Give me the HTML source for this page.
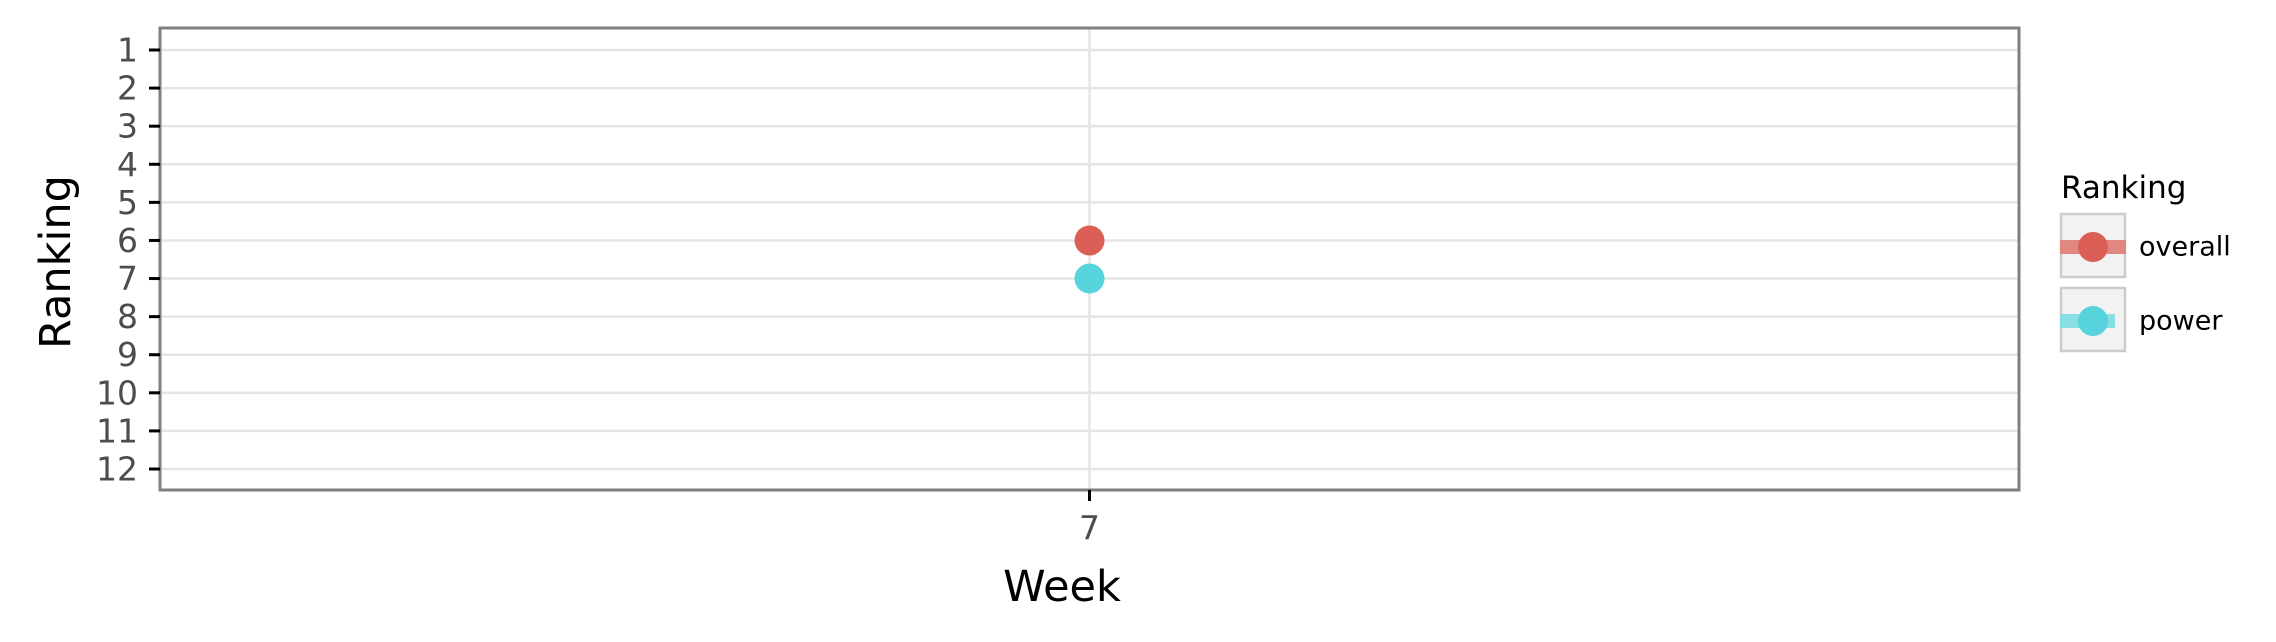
<!DOCTYPE html>
<html><head><meta charset="utf-8"><style>
html,body{margin:0;padding:0;background:#fff}
svg{display:block;font-family:"DejaVu Sans","Liberation Sans",sans-serif}
</style></head><body>
<svg id="chart" width="2276" height="642" viewBox="0 0 2276 642">
<g id="grid"></g>
<g id="marks"></g>
<rect x="160" y="28" width="1859" height="462" fill="none" stroke="#7f7f7f" stroke-width="3"/>
<g id="yaxis"></g>
<g id="xaxis"></g>
<text x="56" y="262" font-size="43" text-anchor="middle" dominant-baseline="central" transform="rotate(-90 56 262)">Ranking</text>
<text x="1062" y="587" font-size="43" text-anchor="middle" dominant-baseline="central">Week</text>
<g>
<text x="2061" y="198" font-size="31">Ranking</text>
<g>
<rect x="2061" y="214" width="64" height="63" fill="#f2f2f2" stroke="#cccccc" stroke-width="2.5"/>
<rect x="2060" y="240" width="66" height="14" fill="#e08880"/>
<circle cx="2093" cy="247" r="15" fill="#db5f57"/>
<text x="2139" y="247" font-size="27" dominant-baseline="central">overall</text>
</g>
<g>
<rect x="2061" y="288" width="64" height="63" fill="#f2f2f2" stroke="#cccccc" stroke-width="2.5"/>
<rect x="2060" y="314" width="55" height="14" fill="#88dfe3"/>
<circle cx="2093" cy="321" r="15" fill="#56d3db"/>
<text x="2139" y="321" font-size="27" dominant-baseline="central">power</text>
</g>
</g>
</svg>
<script>
const yTicks = [1,2,3,4,5,6,7,8,9,10,11,12];
const weeks = [7];
const overall = [6];
const power = [7];
const NS = 'http://www.w3.org/2000/svg';
const L = 160, R = 2019, T = 28, B = 490;
const y = v => 50 + (v - 1) * (469 - 50) / 11;
const x = w => (L + R) / 2 + (w - 7) * 200;
function mk(tag, attrs, parent) {
  const e = document.createElementNS(NS, tag);
  for (const k in attrs) e.setAttribute(k, attrs[k]);
  parent.appendChild(e);
  return e;
}
const grid = document.getElementById('grid');
const ya = document.getElementById('yaxis');
const xa = document.getElementById('xaxis');
const marks = document.getElementById('marks');
yTicks.forEach(t => {
  const g = mk('line', {x1: L, x2: R, y1: y(t), y2: y(t), stroke: '#e5e5e5', 'stroke-width': 2.5}, grid);
  
  
  const tk = mk('line', {x1: 149, x2: 160, y1: y(t), y2: y(t), stroke: '#000', 'stroke-width': 3}, ya);
  
  
  const tx = mk('text', {x: 138, y: y(t), 'font-size': 33, fill: '#4d4d4d', 'text-anchor': 'end', 'dominant-baseline': 'central'}, ya);
  tx.textContent = t;
  
  
});
weeks.forEach(w => {
  const g = mk('line', {x1: x(w), x2: x(w), y1: T, y2: B, stroke: '#e5e5e5', 'stroke-width': 2.5}, grid);
  
  
  const tk = mk('line', {x1: x(w), x2: x(w), y1: B, y2: B + 11, stroke: '#000', 'stroke-width': 3}, xa);
  
  
  const tx = mk('text', {x: x(w), y: 528, 'font-size': 33, fill: '#4d4d4d', 'text-anchor': 'middle', 'dominant-baseline': 'central'}, xa);
  tx.textContent = w;
  
  
});
weeks.forEach((w, i) => {
  const c1 = mk('circle', {cx: x(w), cy: y(overall[i]), r: 15, fill: '#db5f57'}, marks);
  
  
  const c2 = mk('circle', {cx: x(w), cy: y(power[i]), r: 15, fill: '#56d3db'}, marks);
  
  
});
</script>
</body></html>
